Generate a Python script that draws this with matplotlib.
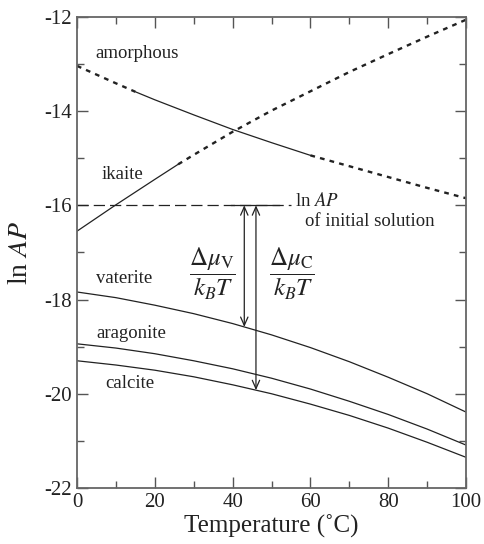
import matplotlib
matplotlib.use("Agg")
import matplotlib.pyplot as plt
import numpy as np

plt.rcParams['font.family'] = ['Liberation Serif', 'DejaVu Serif']
plt.rcParams['mathtext.fontset'] = 'stix'
plt.rcParams['axes.unicode_minus'] = False

# ln AP of each phase vs temperature (deg C)
T_amorph = [0, 10, 15, 20, 30, 40, 50, 60, 70, 80, 90, 100]
amorphous = [-13.04, -13.41, -13.59, -13.76, -14.08, -14.39, -14.67, -14.94, -15.17, -15.40, -15.63, -15.85]
T_ika = [0, 10, 20, 26, 30, 40, 50, 60, 70, 80, 90, 100]
ikaite = [-16.55, -15.99, -15.45, -15.13, -14.93, -14.44, -13.99, -13.58, -13.17, -12.79, -12.42, -12.06]
T = [0, 10, 20, 30, 40, 50, 60, 70, 80, 90, 100]
vaterite = [-17.84, -17.96, -18.12, -18.30, -18.51, -18.75, -19.02, -19.32, -19.65, -20.00, -20.39]
aragonite = [-18.94, -19.03, -19.15, -19.30, -19.47, -19.67, -19.90, -20.16, -20.44, -20.75, -21.09]
calcite = [-19.30, -19.39, -19.50, -19.64, -19.81, -20.00, -20.22, -20.46, -20.73, -21.03, -21.35]

lnAP_init = -16.0
T_arrow_v = 43
T_arrow_c = 46

fig = plt.figure(figsize=(4.84, 5.44), dpi=100)
ax = fig.add_axes([0.159, 0.103, 0.804, 0.866])

ink = '#222222'
dot = dict(color=ink, lw=1.7, dashes=(2.0, 2.2))
solid = dict(color=ink, lw=0.9)

# amorphous: metastable part solid, rest dotted
ax.plot(T_amorph[:3], amorphous[:3], **dot)
ax.plot(T_amorph[2:8], amorphous[2:8], **solid)
ax.plot(T_amorph[7:], amorphous[7:], **dot)
# ikaite
ax.plot(T_ika[:4], ikaite[:4], **solid)
ax.plot(T_ika[3:], ikaite[3:], **dot)

ax.plot(T, vaterite, **solid)
ax.plot(T, aragonite, **solid)
ax.plot(T, calcite, **solid)

# initial solution level
ax.plot([0, 55], [lnAP_init, lnAP_init], color=ink, lw=0.9, dashes=(9, 4))
ax.plot([39.5, 52], [lnAP_init, lnAP_init], color=ink, lw=0.9)

# supersaturation arrows
yv = np.interp(T_arrow_v, T, vaterite)
yc = np.interp(T_arrow_c, T, calcite)
arr = dict(arrowstyle='<->,head_length=0.5,head_width=0.22', color=ink, lw=0.9,
           shrinkA=0, shrinkB=0, mutation_scale=12)
ax.annotate('', xy=(T_arrow_v, yv), xytext=(T_arrow_v, lnAP_init), arrowprops=arr)
ax.annotate('', xy=(T_arrow_c, yc), xytext=(T_arrow_c, lnAP_init), arrowprops=arr)

ax.text(34.8, -17.46, r'$\dfrac{\Delta\mu_\mathrm{V}}{k_B T}$', fontsize=18, ha='center', va='center', color=ink)
ax.text(55.2, -17.46, r'$\dfrac{\Delta\mu_\mathrm{C}}{k_B T}$', fontsize=18, ha='center', va='center', color=ink)

lab = dict(fontsize=13.5, color=ink, va='center')
ax.text(4.8, -12.77, 'amorphous', **lab)
ax.text(6.4, -15.35, 'ikaite', **lab)
ax.text(5.0, -17.56, 'vaterite', **lab)
ax.text(5.0, -18.72, 'aragonite', **lab)
ax.text(7.3, -19.78, 'calcite', **lab)
ax.text(56, -15.9, r'ln $AP$', **lab)
ax.text(58.5, -16.34, 'of initial solution', **lab)

ax.set_xlim(0, 100)
ax.set_ylim(-22, -12)
ax.set_xticks(np.arange(0, 101, 20))
ax.set_xticks(np.arange(10, 100, 20), minor=True)
ax.set_yticks(np.arange(-22, -11, 2))
ax.set_yticks(np.arange(-21, -12, 2), minor=True)
ax.tick_params(which='both', direction='in', top=True, right=True, colors='#555555',
               labelcolor=ink, labelsize=15, width=1.0)
ax.tick_params(which='major', length=8)
ax.tick_params(which='minor', length=5)
for s in ax.spines.values():
    s.set_color('#666666')
    s.set_linewidth(1.3)

ax.set_xlabel('Temperature (˚C)', fontsize=18, color=ink, labelpad=2)
ax.set_ylabel(r'ln $AP$', fontsize=20, color=ink, labelpad=8)

fig.savefig('out.png', dpi=100)
